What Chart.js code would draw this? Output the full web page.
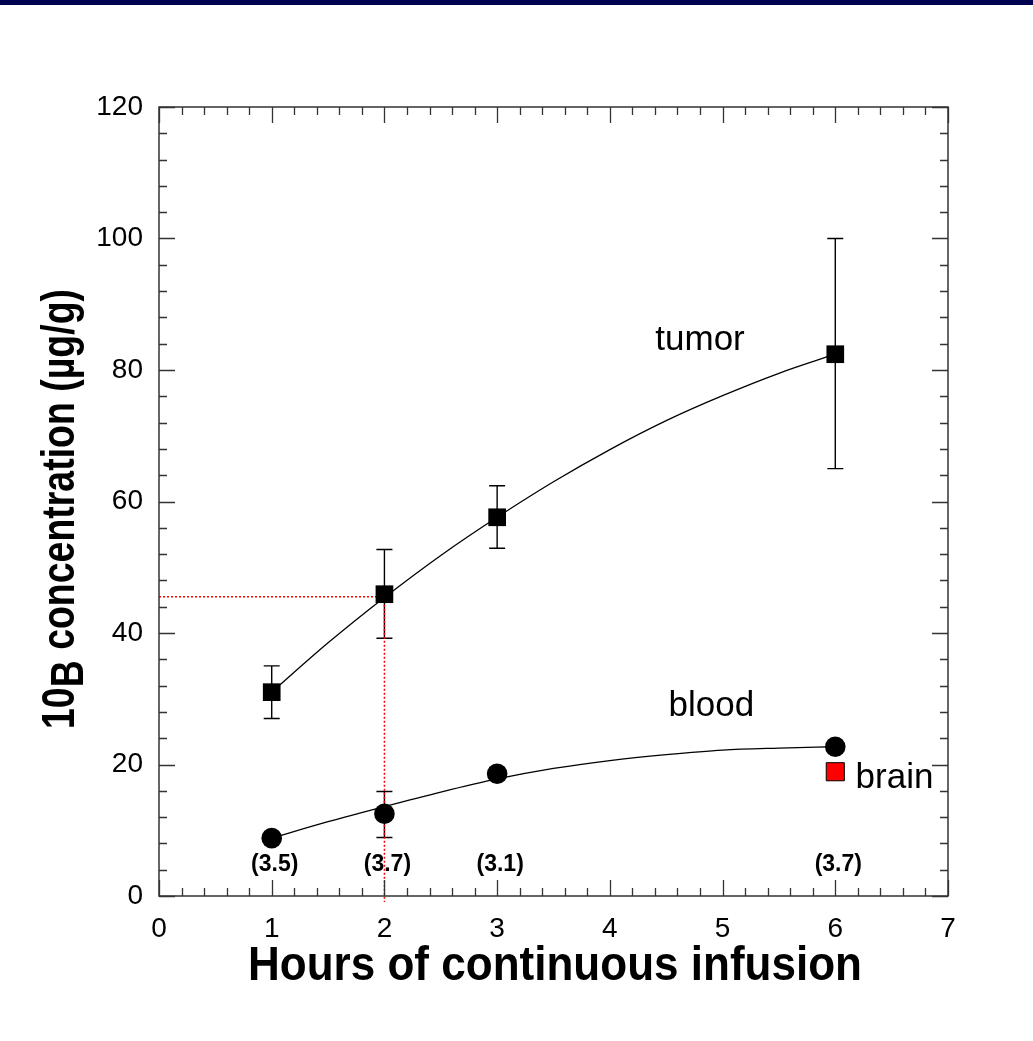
<!DOCTYPE html>
<html>
<head>
<meta charset="utf-8">
<script src="https://cdn.jsdelivr.net/npm/chart.js@4/dist/chart.umd.min.js"></script>
<style>
  html, body { margin: 0; padding: 0; background: #fff; }
  canvas { display: block; }
</style>
</head>
<body>
<canvas id="c" width="1033" height="1041"></canvas>
<script>
// values
const hours = [1, 2, 3, 6];
const tumorMean = [31.0, 45.9, 57.6, 82.4];
const tumorLow = [27.0, 39.2, 52.9, 65.0];
const tumorHigh = [35.0, 52.7, 62.4, 100.0];
const bloodMean = [8.8, 12.5, 18.6, 22.7];
const bloodLow = [8.3, 8.9, 17.7, 22.1];
const bloodHigh = [9.3, 15.9, 19.5, 23.3];
const brainHour = [6];
const brainValue = [18.9];
const ratioLabels = ['(3.5)', '(3.7)', '(3.1)', '(3.7)'];
const ratioLevel = 4.7;
// fitted curves
const fitHours = [1, 1.5, 2, 2.5, 3, 3.5, 4, 4.5, 5, 5.5, 6];
const tumorFit = [31.0, 38.5, 45.4, 51.8, 57.6, 63.0, 67.9, 72.3, 76.1, 79.5, 82.4];
const bloodFit = [8.8, 11.3, 13.6, 15.8, 17.8, 19.4, 20.6, 21.5, 22.2, 22.5, 22.7];
const refHour = 2;
const refValue = 45.5;
const xTickValues = [0, 1, 2, 3, 4, 5, 6, 7];
const yTickValues = [0, 20, 40, 60, 80, 100, 120];

const pts = (xs, ys) => xs.map((x, i) => ({ x: x, y: ys[i] }));

const FONT = '"Liberation Sans", Arial, Helvetica, sans-serif';

// frame with inward ticks on all four sides
const framePlugin = {
  id: 'frame',
  afterDraw(chart) {
    const { ctx, chartArea: a, scales: { x, y } } = chart;
    ctx.save();
    ctx.strokeStyle = '#333';
    ctx.lineWidth = 1.5;
    ctx.strokeRect(a.left, a.top, a.right - a.left, a.bottom - a.top);
    ctx.lineWidth = 1.3;
    ctx.beginPath();
    for (let v = 0; v <= 7.0001; v += 0.2) {
      const px = Math.round(x.getPixelForValue(v)) + 0.5;
      const len = Math.abs(v - Math.round(v)) < 0.01 ? 16 : 8;
      ctx.moveTo(px, a.bottom); ctx.lineTo(px, a.bottom - len);
      ctx.moveTo(px, a.top); ctx.lineTo(px, a.top + len);
    }
    for (let v = 0; v <= 120.0001; v += 4) {
      const py = Math.round(y.getPixelForValue(v)) + 0.5;
      const len = v % 20 === 0 ? 16 : 8;
      ctx.moveTo(a.left, py); ctx.lineTo(a.left + len, py);
      ctx.moveTo(a.right, py); ctx.lineTo(a.right - len, py);
    }
    ctx.stroke();
    ctx.restore();
  }
};

const errorBarPlugin = {
  id: 'errorBars',
  beforeDatasetsDraw(chart) {
    const { ctx, scales: { x, y } } = chart;
    ctx.save();
    ctx.strokeStyle = '#000';
    ctx.lineWidth = 1.4;
    const draw = (lo, hi) => {
      hours.forEach((h, i) => {
        const px = x.getPixelForValue(h);
        const p1 = y.getPixelForValue(lo[i]);
        const p2 = y.getPixelForValue(hi[i]);
        ctx.beginPath();
        ctx.moveTo(px, p1); ctx.lineTo(px, p2);
        ctx.moveTo(px - 8, p1); ctx.lineTo(px + 8, p1);
        ctx.moveTo(px - 8, p2); ctx.lineTo(px + 8, p2);
        ctx.stroke();
      });
    };
    draw(tumorLow, tumorHigh);
    draw(bloodLow, bloodHigh);
    ctx.restore();
  }
};

const textPlugin = {
  id: 'texts',
  beforeDraw(chart) {
    const ctx = chart.ctx;
    ctx.save();
    ctx.fillStyle = '#fff';
    ctx.fillRect(0, 0, chart.width, chart.height);
    ctx.fillStyle = '#000050';
    ctx.fillRect(0, 0, chart.width, 5);
    ctx.restore();
  },
  afterDatasetsDraw(chart) {
    const { ctx, scales: { x, y } } = chart;
    ctx.save();
    ctx.fillStyle = '#000';
    ctx.textBaseline = 'middle';
    ctx.textAlign = 'center';
    ctx.font = 'bold 23px ' + FONT;
    hours.forEach((h, i) => {
      ctx.fillText(ratioLabels[i], x.getPixelForValue(h) + 3, y.getPixelForValue(ratioLevel));
    });
    ctx.font = '35px ' + FONT;
    ctx.fillText('tumor', x.getPixelForValue(4.8), y.getPixelForValue(84.5));
    ctx.fillText('blood', x.getPixelForValue(4.9), y.getPixelForValue(28.9));
    ctx.textAlign = 'left';
    ctx.fillText('brain', x.getPixelForValue(6.18), y.getPixelForValue(17.9));

    // x axis title
    ctx.textBaseline = 'alphabetic';
    ctx.textAlign = 'left';
    const xt = 'Hours of continuous infusion';
    ctx.font = 'bold 48px ' + FONT;
    const xw = ctx.measureText(xt).width;
    ctx.save();
    ctx.translate(555, 980);
    ctx.scale(614 / xw, 1);
    ctx.fillText(xt, -xw / 2, 0);
    ctx.restore();

    // y axis title with lowered B
    const F = 46;
    ctx.save();
    ctx.translate(74, 509);
    ctx.rotate(-Math.PI / 2);
    ctx.font = 'bold ' + F + 'px ' + FONT;
    const w1 = ctx.measureText('10').width;
    const w2 = ctx.measureText('B').width;
    const rest = ' concentration (\u00b5g/g)';
    const w3 = ctx.measureText(rest).width;
    const total = w1 + w2 + w3;
    ctx.scale(440 / total, 1);
    let cx = -total / 2;
    ctx.fillText('10', cx, 0); cx += w1;
    ctx.fillText('B', cx, 0.2 * F); cx += w2;
    ctx.fillText(rest, cx, 0);
    ctx.restore();
    ctx.restore();
  }
};

new Chart(document.getElementById('c'), {
  type: 'line',
  data: {
    datasets: [
      { label: 'tumor', data: pts(hours, tumorMean), showLine: false, pointStyle: 'rect',
        pointRadius: 12.5, pointBackgroundColor: '#000', pointBorderWidth: 0, order: 0 },
      { label: 'blood', data: pts(hours, bloodMean), showLine: false, pointStyle: 'circle',
        pointRadius: 10.3, pointBackgroundColor: '#000', pointBorderWidth: 0, order: 0 },
      { label: 'brain', data: pts(brainHour, brainValue), showLine: false, pointStyle: 'rect',
        pointRadius: 12.8, pointBackgroundColor: '#ff0000', pointBorderColor: '#000', pointBorderWidth: 1, order: 0 },
      { label: 'tumor fit', data: pts(fitHours, tumorFit), borderColor: '#000', borderWidth: 1.3,
        pointRadius: 0, cubicInterpolationMode: 'monotone', fill: false, order: 1 },
      { label: 'blood fit', data: pts(fitHours, bloodFit), borderColor: '#000', borderWidth: 1.3,
        pointRadius: 0, cubicInterpolationMode: 'monotone', fill: false, order: 1 },
      { label: 'ref h', data: [{ x: 0, y: refValue }, { x: refHour, y: refValue }], borderColor: '#ff0000',
        borderWidth: 1.5, borderDash: [2, 2], pointRadius: 0, order: 2 },
      { label: 'ref v', data: [{ x: refHour, y: refValue }, { x: refHour, y: -0.9 }], borderColor: '#ff0000',
        borderWidth: 1.5, borderDash: [2, 2], pointRadius: 0, order: 2, clip: false }
    ]
  },
  options: {
    responsive: false,
    animation: false,
    devicePixelRatio: 1,
    layout: { padding: { left: 0, top: 107, right: 85, bottom: 0 } },
    plugins: { legend: { display: false }, tooltip: { enabled: false } },
    scales: {
      x: {
        type: 'linear', min: 0, max: 7,
        afterBuildTicks: s => { s.ticks = xTickValues.map(v => ({ value: v })); },
        afterFit: s => { s.height = 1041 - 896; },
        grid: { display: false, drawTicks: false },
        border: { display: false },
        ticks: { color: '#000', padding: 16, font: { family: FONT, size: 28 } }
      },
      y: {
        type: 'linear', min: 0, max: 120,
        afterBuildTicks: s => { s.ticks = yTickValues.map(v => ({ value: v })); },
        afterFit: s => { s.width = 159; },
        grid: { display: false, drawTicks: false },
        border: { display: false },
        ticks: { color: '#000', padding: 16, font: { family: FONT, size: 28 } }
      }
    }
  },
  plugins: [textPlugin, errorBarPlugin, framePlugin]
});
</script>
</body>
</html>
